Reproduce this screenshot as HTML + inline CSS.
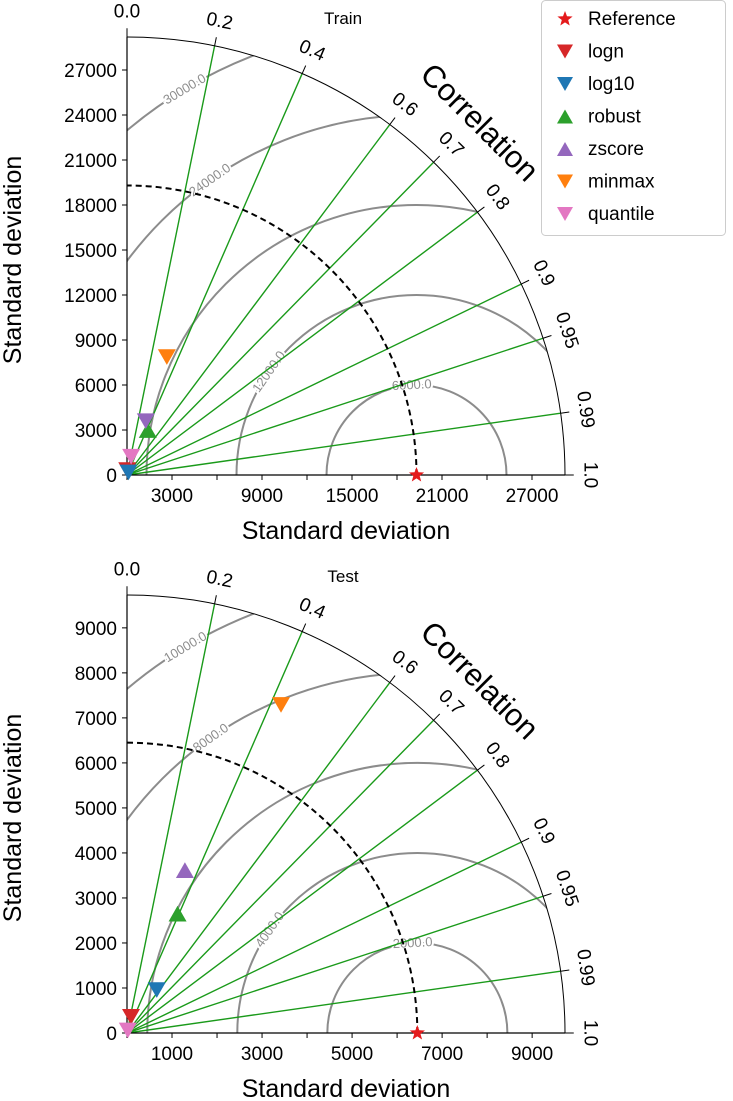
<!DOCTYPE html>
<html><head><meta charset="utf-8"><style>
body{margin:0;background:#fff;overflow:hidden;}
svg{display:block;font-family:"Liberation Sans","DejaVu Sans",sans-serif;}
</style></head><body>
<svg id="chart" width="733" height="1101" viewBox="0 0 733 1101" xmlns="http://www.w3.org/2000/svg"></svg>
<script>
const seriesNames = ["logn","log10","robust","zscore","minmax","quantile"];
const seriesColors = ["#d62728","#1f77b4","#2ca02c","#9467bd","#ff7f0e","#e377c2"];
const seriesShapes = ["down","down","up","up","down","down"];
const trainStd = [330, 200, 3300, 3800, 8300, 1250];
const trainCorr = [0.05, 0.5, 0.42, 0.33, 0.32, 0.22];
const trainShapes = ["down","down","up","down","down","down"];
const testStd = [370, 1160, 2880, 3840, 8050, 60];
const testCorr = [0.24, 0.57, 0.39, 0.335, 0.425, 0.3];
const testShapes = ["down","down","up","up","down","down"];
const trainRefStd = 19300;
const testRefStd = 6450;
const corrTicks = [0.0,0.2,0.4,0.6,0.7,0.8,0.9,0.95,0.99,1.0];
const corrLines = [0.2,0.4,0.6,0.7,0.8,0.9,0.95,0.99];
const trainYTicks = [0,3000,6000,9000,12000,15000,18000,21000,24000,27000];
const trainXTicks = [3000,9000,15000,21000,27000];
const trainXMinor = [0,3000,6000,9000,12000,15000,18000,21000,24000,27000];
const trainRms = [6000,12000,18000,24000,30000];
const trainRmsLabel = [[6000,93],[12000,145],[24000,125],[30000,121]];
const testYTicks = [0,1000,2000,3000,4000,5000,6000,7000,8000,9000];
const testXTicks = [1000,3000,5000,7000,9000];
const testXMinor = [0,1000,2000,3000,4000,5000,6000,7000,8000,9000];
const testRms = [2000,4000,6000,8000,10000];
const testRmsLabel = [[2000,93],[4000,145],[8000,125],[10000,121]];

const NS="http://www.w3.org/2000/svg";
const svg=document.getElementById('chart');
function mk(tag,attrs,parent){const e=document.createElementNS(NS,tag);for(const k in attrs)e.setAttribute(k,attrs[k]);(parent||svg).appendChild(e);return e;}
function marker(g,shape,x,y,color,s){
  const h=s*0.87;let pts;
  if(shape==="down")pts=`${x-s/2},${y-h/2} ${x+s/2},${y-h/2} ${x},${y+h/2}`;
  else pts=`${x-s/2},${y+h/2} ${x+s/2},${y+h/2} ${x},${y-h/2}`;
  return mk('polygon',{points:pts,fill:color},g);
}
function star(g,x,y,r,color){
  let p=[];for(let i=0;i<10;i++){const a=-Math.PI/2+i*Math.PI/5;const rr=i%2?r*0.42:r;p.push((x+rr*Math.cos(a)).toFixed(1)+","+(y+rr*Math.sin(a)).toFixed(1));}
  return mk('polygon',{points:p.join(" "),fill:color},g);
}
function panel(cfg){
  const g=mk('g',{});
  
  
  const ox=127,oy=cfg.oy,R=438,maxV=cfg.maxV;
  const sc=v=>v/maxV*R;
  const P=(s,c)=>{const t=Math.acos(c);return [ox+sc(s)*Math.cos(t),oy-sc(s)*Math.sin(t)];};
  const clipId='clip'+cfg.name;
  const cp=mk('clipPath',{id:clipId},g);
  mk('path',{d:`M${ox},${oy} L${ox+R},${oy} A${R},${R} 0 0 0 ${ox},${oy-R} Z`},cp);
  const cg=mk('g',{'clip-path':`url(#${clipId})`},g);
  
  
  const rx=ox+sc(cfg.ref);
  cfg.rms.forEach(v=>{const c=mk('circle',{cx:rx,cy:oy,r:sc(v),fill:'none',stroke:'#8c8c8c','stroke-width':2},cg);
    
    });
  cfg.rmsLabel.forEach(([v,phi])=>{const a=phi*Math.PI/180;const x=rx+sc(v)*Math.cos(a),y=oy-sc(v)*Math.sin(a);
    const t=mk('text',{x:x,y:y+4,'font-size':13,fill:'#8c8c8c','text-anchor':'middle',transform:`rotate(${-(phi-90)} ${x} ${y})`,stroke:'#fff','stroke-width':4,'paint-order':'stroke'},g);
    t.textContent=v.toFixed(1);
    
    });
  corrLines.forEach(c=>{const [x,y]=P(maxV,c);const l=mk('line',{x1:ox,y1:oy,x2:x,y2:y,stroke:'#1a9a1a','stroke-width':1.4},g);
    
    });
  mk('path',{d:`M${ox+R},${oy} A${R},${R} 0 0 0 ${ox},${oy-R}`,fill:'none',stroke:'#000','stroke-width':1},g);
  mk('line',{x1:ox,y1:oy,x2:ox,y2:oy-R,stroke:'#000','stroke-width':1.2},g);
  mk('line',{x1:ox,y1:oy,x2:ox+R,y2:oy,stroke:'#000','stroke-width':1.2},g);
  const rr=sc(cfg.ref);
  const da=mk('path',{d:`M${ox+rr},${oy} A${rr},${rr} 0 0 0 ${ox},${oy-rr}`,fill:'none',stroke:'#000','stroke-width':2,'stroke-dasharray':'6,4'},g);
  
  
  corrTicks.forEach(c=>{const t=Math.acos(c);const x=ox+R*1.06*Math.cos(t),y=oy-R*1.06*Math.sin(t);const rot=90-t*180/Math.PI;
    const [x1,y1]=P(maxV,c);const [x2,y2]=P(maxV*1.02,c);mk('line',{x1:x1,y1:y1,x2:x2,y2:y2,stroke:'#000'},g);
    const tx=mk('text',{x:x,y:y+7,'font-size':19,'text-anchor':'middle',transform:`rotate(${rot} ${x} ${y})`},g);
    tx.textContent=c.toString().length<3?c.toFixed(1):String(c);
    
    });
  const cx=ox+R*1.14*Math.cos(Math.PI/4),cy=oy-R*1.14*Math.sin(Math.PI/4);
  const ct=mk('text',{x:cx,y:cy+11,'font-size':31,'text-anchor':'middle',transform:`rotate(45 ${cx} ${cy})`},g);
  ct.textContent='Correlation';
  
  
  cfg.yTicks.forEach(v=>{const y=oy-sc(v);mk('line',{x1:ox-5,y1:y,x2:ox,y2:y,stroke:'#000'},g);
    const t=mk('text',{x:ox-10,y:y+7,'font-size':19,'text-anchor':'end'},g);t.textContent=v;
    
    });
  cfg.xMinor.forEach(v=>{const x=ox+sc(v);mk('line',{x1:x,y1:oy,x2:x,y2:oy+5,stroke:'#000'},g);});
  cfg.xTicks.forEach(v=>{const x=ox+sc(v);
    const t=mk('text',{x:x,y:oy+27,'font-size':19,'text-anchor':'middle'},g);t.textContent=v;
    
    });
  const xl=mk('text',{x:346,y:oy+64,'font-size':25,'text-anchor':'middle'},g);xl.textContent='Standard deviation';
  
  
  const yl=mk('text',{x:21,y:oy-215,'font-size':25,'text-anchor':'middle',transform:`rotate(-90 21 ${oy-215})`},g);yl.textContent='Standard deviation';
  
  
  const ti=mk('text',{x:343,y:oy-451,'font-size':17,'text-anchor':'middle'},g);ti.textContent=cfg.title;
  
  
  cfg.std.forEach((s,i)=>{const [x,y]=P(s,cfg.corr[i]);const m=marker(g,cfg.shapes[i],x,y,seriesColors[i],18);
    
    });
  const st=star(g,ox+sc(cfg.ref),oy,8,'#e41a1c');
  
  
}
panel({name:'train',title:'Train',oy:475,maxV:29200,ref:trainRefStd,std:trainStd,corr:trainCorr,shapes:trainShapes,yTicks:trainYTicks,xTicks:trainXTicks,xMinor:trainXMinor,rms:trainRms,rmsLabel:trainRmsLabel});
panel({name:'test',title:'Test',oy:1033,maxV:9730,ref:testRefStd,std:testStd,corr:testCorr,shapes:testShapes,yTicks:testYTicks,xTicks:testXTicks,xMinor:testXMinor,rms:testRms,rmsLabel:testRmsLabel});
const lg=mk('g',{});


mk('rect',{x:541.5,y:0.5,width:184,height:235,rx:4,fill:'#fff',stroke:'#ccc'},lg);
const ls=star(lg,565,19,8,'#e41a1c');


let lt=mk('text',{x:588,y:25,'font-size':19},lg);lt.textContent='Reference';


seriesNames.forEach((n,i)=>{const y=19+32.5*(i+1);const m=marker(lg,seriesShapes[i],565,y,seriesColors[i],16);
  
  
  const t=mk('text',{x:588,y:y+6,'font-size':19},lg);t.textContent=n;
  
  });
</script>
</body></html>
